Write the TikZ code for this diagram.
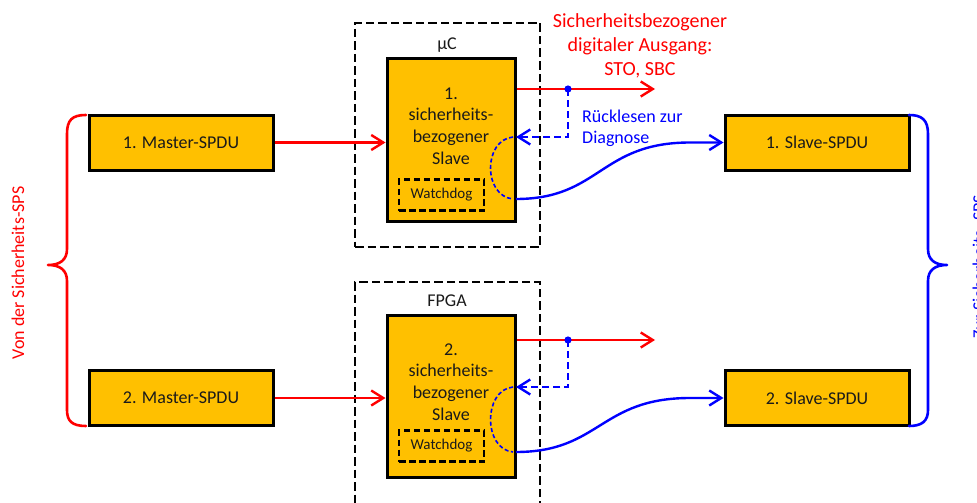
\documentclass[tikz,border=0pt]{standalone}
\usepackage{fontspec}
\setmainfont{Carlito}
\usetikzlibrary{arrows.meta}
\definecolor{boxfill}{HTML}{FFC000}
\definecolor{sigred}{HTML}{FF0000}
\definecolor{sigblue}{HTML}{0000FF}
\definecolor{txt}{HTML}{1A1A1A}
\tikzset{
  box/.style={draw=black, line width=3pt, fill=boxfill, text=txt, inner sep=0pt},
  spdu/.style={box, minimum width=184pt, minimum height=55pt, font=\fontsize{18}{21.6}\selectfont},
  slavebox/.style={box, minimum width=128pt, minimum height=162pt},
  wdbox/.style={draw=black, line width=2.7pt, dash pattern=on 6.5pt off 3.5pt, minimum width=85pt, minimum height=31pt, inner sep=0pt, text=txt, font=\fontsize{15}{18}\selectfont},
  chipframe/.style={draw=black, line width=2.8pt, dash pattern=on 8.5pt off 4pt, inner sep=0pt},
  lbl/.style={text=txt, inner sep=0pt, font=\fontsize{18}{21.6}\selectfont},
  redarrow/.style={draw=sigred, line width=2.4pt, -{Straight Barb[length=12pt,width=15pt]}},
  bluearrow/.style={draw=sigblue, line width=2.4pt, -{Straight Barb[length=12pt,width=15pt]}},
  bluedash/.style={draw=sigblue, line width=2.4pt, dash pattern=on 7pt off 4pt, -{Straight Barb[length=12pt,width=15pt]}},
  bluethin/.style={draw=sigblue, line width=1.6pt, dash pattern=on 4pt off 2.5pt},
  brace/.style={line width=2.6pt, line join=round, line cap=round},
}
\begin{document}
\begin{tikzpicture}[x=1pt, y=-1pt]
\useasboundingbox (0,0) rectangle (977,503);

% chip frames
\node[chipframe, minimum width=185pt, minimum height=224pt] (uc) at (447.5,135) {};
\node[chipframe, minimum width=185pt, minimum height=230pt] (fpga) at (447.5,397) {};
\node[lbl] (uclbl) at (447,45) {µC};
\node[lbl] (fpgalbl) at (447,301) {FPGA};

% master and slave SPDUs
\node[spdu] (m1) at (181,142.5) {1. Master-SPDU};
\node[spdu] (m2) at (181,398) {2. Master-SPDU};
\node[spdu] (sl1) at (817,142.5) {1. Slave-SPDU};
\node[spdu] (sl2) at (817,398) {2. Slave-SPDU};

% safety-related slaves with watchdogs
\node[slavebox] (s1) at (451,140) {};
\node[slavebox] (s2) at (451,396.5) {};
\node[lbl, align=center] (s1t) at (451,126) {1.\\sicherheits-\\bezogener\\Slave};
\node[lbl, align=center] (s2t) at (451,382) {2.\\sicherheits-\\bezogener\\Slave};
\node[wdbox] (w1) at (441.5,195) {Watchdog};
\node[wdbox] (w2) at (441.5,446) {Watchdog};

% master to slave
\draw[redarrow] (m1) -- (s1.west |- m1);
\draw[redarrow] (m2) -- (s2.west |- m2);

% safe outputs with read-back taps
\coordinate (o1) at (655,89);
\coordinate (o2) at (655,340);
\coordinate (d1) at (568,89);
\coordinate (d2) at (568,340);
\coordinate (r1) at (516,137);
\coordinate (r2) at (516,387);
\coordinate (q1) at (516,199);
\coordinate (q2) at (516,452);

\draw[redarrow] (s1.east |- o1) -- (o1);
\draw[redarrow] (s2.east |- o2) -- (o2);
\draw[bluedash] (d1) |- (r1);
\draw[bluedash] (d2) |- (r2);
\fill[sigblue] (d1) circle (3.6pt);
\fill[sigblue] (d2) circle (3.6pt);

% internal loop through the slave
\draw[bluethin] (513,137) .. controls (483,140) and (483,196) .. (513,199);
\draw[bluethin] (513,387) .. controls (483,390) and (483,449) .. (513,452);

% slave to slave-SPDU
\draw[bluearrow] (q1) .. controls (600,199) and (600,142.5) .. (690,142.5) -- (sl1.west);
\draw[bluearrow] (q2) .. controls (600,452) and (600,398) .. (690,398) -- (sl2.west);

% annotations
\node[text=sigred, align=center, inner sep=0pt, font=\fontsize{20}{24}\selectfont] (outlbl) at (640,46) {Sicherheitsbezogener\\digitaler Ausgang:\\STO, SBC};
\node[text=sigblue, align=left, anchor=west, inner sep=0pt, font=\fontsize{18}{21}\selectfont] (rblbl) at (582,128) {Rücklesen zur\\Diagnose};

% braces
\draw[brace, sigred] (86,115) .. controls (72,115) and (67,120) .. (67,134) -- (67,249)
  .. controls (67,260) and (60,265) .. (48,265)
  .. controls (60,265) and (67,270) .. (67,281) -- (67,410)
  .. controls (67,421) and (72,426) .. (86,426);
\draw[brace, sigblue] (909,115) .. controls (922,115) and (928,120) .. (928,134) -- (928,249)
  .. controls (928,260) and (935,265) .. (947,265)
  .. controls (935,265) and (928,270) .. (928,281) -- (928,410)
  .. controls (928,421) and (922,426) .. (909,426);
\node[text=sigred, rotate=90, inner sep=0pt, font=\fontsize{18}{21.6}\selectfont] (von) at (18,273) {Von der Sicherheits-SPS};
\node[text=sigblue, rotate=90, inner sep=0pt, font=\fontsize{18}{21.6}\selectfont] (zur) at (979,267) {Zur Sicherheits- SPS};
\end{tikzpicture}
\end{document}
